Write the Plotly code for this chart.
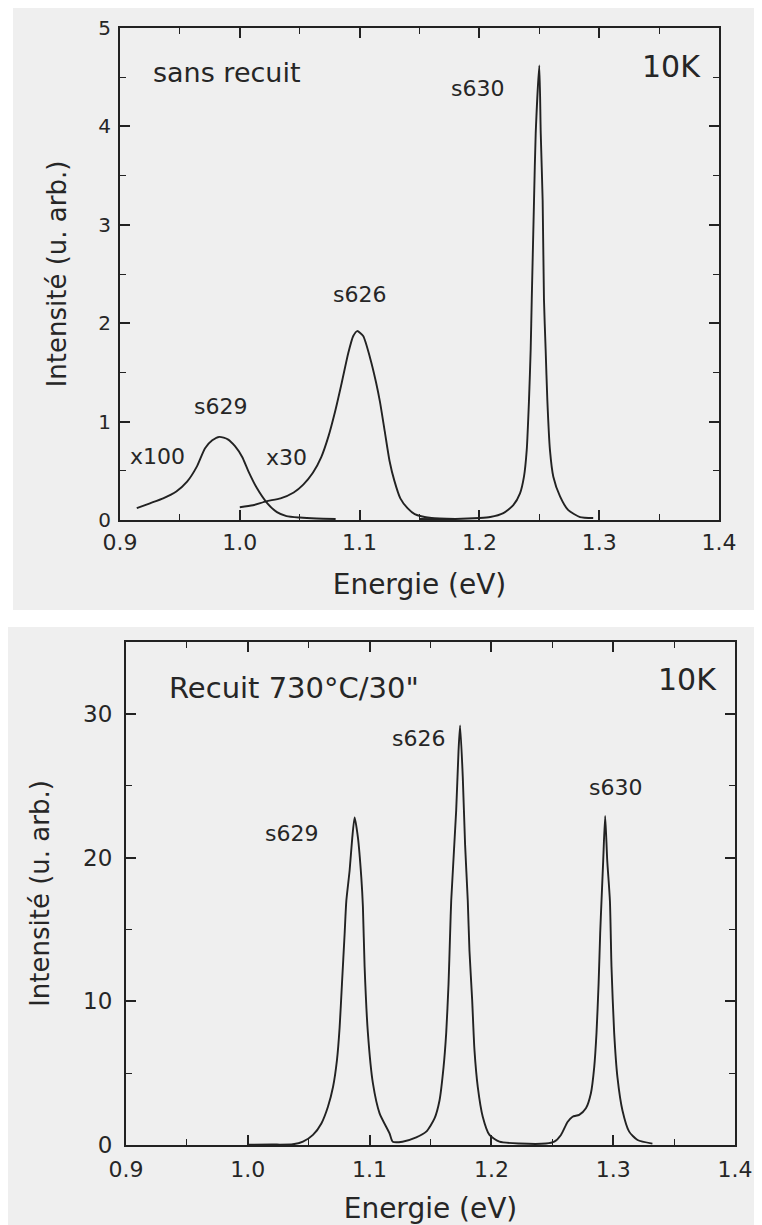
import plotly.graph_objects as go

# ---------------- Top panel: "sans recuit" ----------------
top_s629_x = [0.914, 0.925, 0.936, 0.947, 0.956, 0.964, 0.971, 0.977, 0.983, 0.990, 0.996,
              1.002, 1.007, 1.014, 1.023, 1.031, 1.039, 1.050, 1.064, 1.080]
top_s629_y = [0.12, 0.17, 0.22, 0.29, 0.39, 0.54, 0.73, 0.81, 0.845, 0.82, 0.75,
              0.64, 0.50, 0.33, 0.17, 0.08, 0.04, 0.025, 0.015, 0.01]

top_s626_x = [1.000, 1.011, 1.022, 1.034, 1.045, 1.053, 1.061, 1.068, 1.074, 1.0795, 1.085,
              1.0906, 1.0947, 1.098, 1.103, 1.1087, 1.1137, 1.117, 1.121, 1.125, 1.129,
              1.134, 1.140, 1.146, 1.160, 1.180]
top_s626_y = [0.13, 0.15, 0.19, 0.22, 0.28, 0.36, 0.48, 0.64, 0.85, 1.10, 1.39,
              1.70, 1.87, 1.92, 1.87, 1.65, 1.40, 1.20, 0.90, 0.60, 0.40,
              0.22, 0.12, 0.06, 0.02, 0.01]

top_s630_x = [1.150, 1.180, 1.200, 1.209, 1.220, 1.2283, 1.2339, 1.2372, 1.2395, 1.2414,
              1.2428, 1.2437, 1.2456, 1.2470, 1.2500, 1.2512, 1.2528, 1.2539, 1.2553,
              1.2567, 1.2589, 1.2617, 1.2673, 1.2742, 1.2840, 1.2950]
top_s630_y = [0.01, 0.01, 0.02, 0.03, 0.07, 0.15, 0.27, 0.44, 0.71, 1.22,
              1.73, 2.24, 3.25, 3.93, 4.62, 3.93, 3.25, 2.24, 1.73,
              1.22, 0.71, 0.44, 0.24, 0.10, 0.03, 0.02]

# ---------------- Bottom panel: "Recuit 730°C/30''" ----------------
bot_x = [1.000, 1.020, 1.037, 1.0453, 1.0535, 1.0604, 1.0658, 1.0700, 1.0732, 1.0754, 1.0773,
         1.0795, 1.0809, 1.0836, 1.0858, 1.0877, 1.0904, 1.0932, 1.0945, 1.0959, 1.0986,
         1.1027, 1.1082, 1.1164, 1.1190, 1.1270, 1.1383, 1.1465, 1.1533, 1.1574, 1.1607,
         1.1629, 1.1648, 1.1661, 1.1670, 1.1711, 1.1730, 1.1743, 1.1765, 1.1784, 1.1806,
         1.1820, 1.1842, 1.1861, 1.1888, 1.1929, 1.1984, 1.2066, 1.2230, 1.2448, 1.2516,
         1.2571, 1.2625, 1.2666, 1.2721, 1.2776, 1.2817, 1.2844, 1.2863, 1.2880, 1.2893,
         1.2904, 1.2918, 1.2934, 1.2951, 1.2973, 1.2986, 1.3008, 1.3035, 1.3076, 1.3131,
         1.3200, 1.3322]
bot_y = [0.02, 0.03, 0.05, 0.23, 0.70, 1.50, 2.66, 4.05, 5.90, 8.20, 11.2,
         14.7, 17.0, 19.1, 21.4, 22.8, 21.4, 18.6, 16.6, 12.4, 7.8,
         4.3, 2.2, 0.8, 0.23, 0.23, 0.53, 0.93, 1.85, 3.1, 5.4,
         7.8, 11.2, 14.7, 17.0, 23.3, 27.4, 29.2, 25.6, 20.9, 17.0,
         13.5, 10.1, 6.6, 4.05, 1.97, 0.70, 0.23, 0.10, 0.10, 0.23,
         0.70, 1.60, 1.97, 2.10, 2.55, 3.6, 5.4, 7.8, 11.2, 14.7,
         17.0, 19.8, 22.9, 19.8, 17.0, 12.4, 7.8, 4.7, 2.4, 0.93,
         0.35, 0.10]

x_ticks = [0.9, 1.0, 1.1, 1.2, 1.3, 1.4]
x_ticktext = ["0.9", "1.0", "1.1", "1.2", "1.3", "1.4"]
top_y_ticks = [0, 1, 2, 3, 4, 5]
bot_y_ticks = [0, 10, 20, 30]

LINE = "#222222"
TXT = "#262626"
FONT = "DejaVu Sans"
OFF = 8                      # default page body margin
FW, FH = 762 - OFF, 1225 - OFF


def px(xp):
    return (xp - OFF) / FW


def py(yp):
    return 1 - (yp - OFF) / FH


fig = go.Figure()
for xs, ys in [(top_s629_x, top_s629_y), (top_s626_x, top_s626_y), (top_s630_x, top_s630_y)]:
    fig.add_trace(go.Scatter(x=xs, y=ys, mode="lines",
                             line=dict(color=LINE, width=1.9, shape="spline", smoothing=0.6),
                             xaxis="x", yaxis="y", showlegend=False, hoverinfo="skip"))
fig.add_trace(go.Scatter(x=bot_x, y=bot_y, mode="lines",
                         line=dict(color=LINE, width=1.9, shape="spline", smoothing=0.6),
                         xaxis="x2", yaxis="y2", showlegend=False, hoverinfo="skip"))


def xaxis(dom, anchor, lab_off, title_off):
    return dict(domain=dom, anchor=anchor, range=[0.9, 1.4], tickmode="array",
                tickvals=x_ticks, ticktext=x_ticktext, ticks="inside", ticklen=10,
                tickwidth=1.6, tickcolor=LINE, mirror="ticks", showline=True, linewidth=2,
                linecolor=LINE, showgrid=False, zeroline=False, automargin=False,
                minor=dict(ticks="inside", ticklen=6, tickwidth=1.4, tickcolor=LINE,
                           tickvals=[0.95, 1.05, 1.15, 1.25, 1.35]),
                tickfont=dict(family=FONT, size=22, color=TXT), ticklabelstandoff=lab_off,
                title=dict(text="Energie (eV)", font=dict(family=FONT, size=28, color=TXT),
                           standoff=title_off))


def yaxis(dom, anchor, rng, vals, minor_vals, fsize, lab_off, title_off):
    return dict(domain=dom, anchor=anchor, range=rng, tickmode="array", tickvals=vals,
                ticktext=[str(v) for v in vals], ticks="inside", ticklen=10, tickwidth=1.6,
                tickcolor=LINE, mirror="ticks", showline=True, linewidth=2, linecolor=LINE,
                showgrid=False, zeroline=False, automargin=False,
                minor=dict(ticks="inside", ticklen=6, tickwidth=1.4, tickcolor=LINE,
                           tickvals=minor_vals),
                tickfont=dict(family=FONT, size=fsize, color=TXT), ticklabelstandoff=lab_off,
                title=dict(text="Intensité (u. arb.)", font=dict(family=FONT, size=26, color=TXT),
                           standoff=title_off))


fig.update_layout(
    width=FW, height=FH, template="none",
    margin=dict(l=0, r=0, t=0, b=0),
    paper_bgcolor="white", plot_bgcolor="rgba(0,0,0,0)",
    xaxis=xaxis([px(120), px(719)], "y", 2, 20),
    yaxis=yaxis([py(520), py(28)], "x", [0, 5], top_y_ticks,
                [0.5, 1.5, 2.5, 3.5, 4.5], 20, 3, 24),
    xaxis2=xaxis([px(126), px(735)], "y2", 4, 31),
    yaxis2=yaxis([py(1145), py(642)], "x2", [0, 35], bot_y_ticks,
                 [5, 15, 25], 23, 7, 26),
    shapes=[
        dict(type="rect", xref="paper", yref="paper", x0=px(13), x1=1, y0=py(610),
             y1=1, fillcolor="#efefef", line_width=0, layer="below"),
        dict(type="rect", xref="paper", yref="paper", x0=0, x1=1, y0=0,
             y1=py(627), fillcolor="#efefef", line_width=0, layer="below"),
    ],
)

ann = [
    # top panel
    dict(text="sans recuit", x=0.926, y=4.55, xref="x", yref="y", xanchor="left", size=27),
    dict(text="10K", x=1.387, y=4.61, xref="x", yref="y", xanchor="right", size=30),
    dict(text="s630", x=1.198, y=4.385, xref="x", yref="y", xanchor="center", size=22),
    dict(text="s626", x=1.0995, y=2.29, xref="x", yref="y", xanchor="center", size=22),
    dict(text="s629", x=0.9835, y=1.15, xref="x", yref="y", xanchor="center", size=22),
    dict(text="x100", x=0.931, y=0.65, xref="x", yref="y", xanchor="center", size=22),
    dict(text="x30", x=1.039, y=0.64, xref="x", yref="y", xanchor="center", size=22),
    # bottom panel
    dict(text="Recuit 730°C/30\"", x=0.9336, y=31.8, xref="x2", yref="y2", xanchor="left", size=29),
    dict(text="10K", x=1.387, y=32.4, xref="x2", yref="y2", xanchor="right", size=30),
    dict(text="s626", x=1.140, y=28.3, xref="x2", yref="y2", xanchor="center", size=22),
    dict(text="s630", x=1.3016, y=24.9, xref="x2", yref="y2", xanchor="center", size=22),
    dict(text="s629", x=1.036, y=21.7, xref="x2", yref="y2", xanchor="center", size=22),
]
for a in ann:
    size = a.pop("size")
    fig.add_annotation(**a, yanchor="middle", showarrow=False,
                       font=dict(family=FONT, size=size, color=TXT))

fig.write_html("out.html")
